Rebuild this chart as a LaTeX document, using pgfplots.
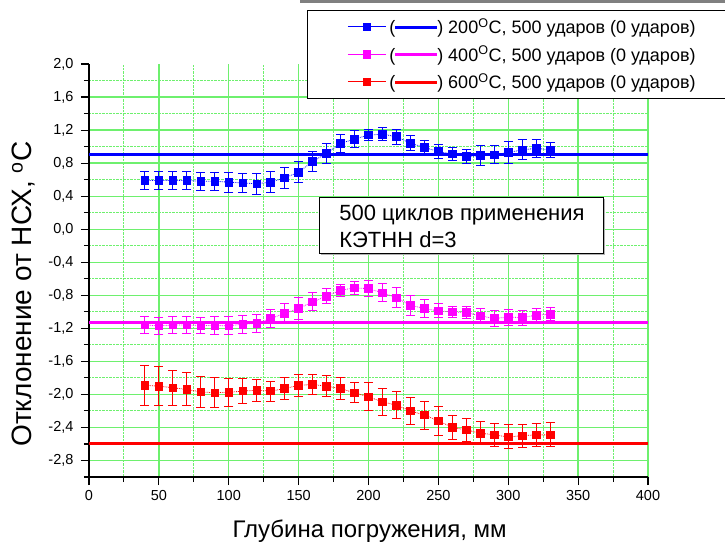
\documentclass[border=0pt]{standalone}
\usepackage{fontspec}
\setmainfont{Liberation Sans}
\usepackage{pgfplots}
\usepackage{pgfplotstable}
\pgfplotsset{compat=1.18}
\definecolor{gridgreen}{RGB}{110,240,110}
\definecolor{cblue}{RGB}{0,0,255}
\definecolor{cmag}{RGB}{255,0,255}
\definecolor{cred}{RGB}{255,0,0}

\pgfplotstableread{
x y e
40 0.59 0.11
50 0.59 0.11
60 0.59 0.11
70 0.59 0.11
80 0.58 0.11
90 0.58 0.11
100 0.57 0.12
110 0.56 0.12
120 0.55 0.13
130 0.57 0.13
140 0.62 0.13
150 0.69 0.13
160 0.82 0.12
170 0.92 0.12
180 1.04 0.11
190 1.09 0.10
200 1.14 0.07
210 1.15 0.08
220 1.12 0.09
230 1.04 0.09
240 0.99 0.08
250 0.94 0.08
260 0.91 0.08
270 0.88 0.09
280 0.89 0.12
290 0.90 0.11
300 0.93 0.13
310 0.96 0.12
320 0.98 0.11
330 0.96 0.09
}\bluedata

\pgfplotstableread{
x y e
40 -1.16 0.10
50 -1.17 0.10
60 -1.16 0.10
70 -1.16 0.10
80 -1.165 0.10
90 -1.165 0.105
100 -1.17 0.11
110 -1.15 0.11
120 -1.14 0.11
130 -1.08 0.11
140 -1.02 0.12
150 -0.96 0.13
160 -0.88 0.11
170 -0.81 0.09
180 -0.74 0.075
190 -0.71 0.08
200 -0.72 0.10
210 -0.77 0.11
220 -0.83 0.12
230 -0.92 0.12
240 -0.96 0.11
250 -0.99 0.085
260 -1.00 0.07
270 -1.01 0.07
280 -1.05 0.087
290 -1.08 0.095
300 -1.065 0.095
310 -1.07 0.09
320 -1.04 0.077
330 -1.03 0.08
}\magdata

\pgfplotstableread{
x y e
40 -1.89 0.24
50 -1.90 0.24
60 -1.92 0.21
70 -1.94 0.20
80 -1.97 0.19
90 -1.98 0.18
100 -1.975 0.17
110 -1.96 0.15
120 -1.95 0.13
130 -1.96 0.12
140 -1.93 0.13
150 -1.89 0.13
160 -1.88 0.125
170 -1.90 0.13
180 -1.93 0.13
190 -1.98 0.12
200 -2.03 0.17
210 -2.09 0.16
220 -2.13 0.16
230 -2.20 0.16
240 -2.25 0.17
250 -2.32 0.176
260 -2.40 0.15
270 -2.43 0.14
280 -2.47 0.14
290 -2.49 0.14
300 -2.515 0.146
310 -2.50 0.14
320 -2.49 0.14
330 -2.49 0.146
}\reddata

\begin{document}
\begin{tikzpicture}
\useasboundingbox (-89pt,-66pt) rectangle (636pt,477pt);
\begin{axis}[
  at={(0,0)}, anchor=south west,
  scale only axis, width=559pt, height=413pt,
  xmin=0, xmax=400, ymin=-3.0, ymax=2.0,
  axis x line*=bottom, axis y line*=left,
  axis line style={line width=1.2pt, black},
  xtick={0,50,...,400},
  minor xtick={25,75,...,375},
  ytick={-2.8,-2.4,-2.0,-1.6,-1.2,-0.8,-0.4,0,0.4,0.8,1.2,1.6},
  extra y ticks={2.0},
  extra y tick style={grid=none},
  minor ytick={-3.0,-2.6,-2.2,-1.8,-1.4,-1.0,-0.6,-0.2,0.2,0.6,1.0,1.4,1.8},
  grid=both,
  major grid style={gridgreen, line width=1.3pt},
  minor grid style={gridgreen, densely dotted, line width=0.9pt},
  tick align=outside,
  major tick length=8pt, minor tick length=5pt,
  tick style={black, line width=1.1pt},
  /pgf/number format/assume math mode=true,
  yticklabel style={/pgf/number format/fixed, /pgf/number format/fixed zerofill, /pgf/number format/precision=1, /pgf/number format/use comma, xshift=-4pt},
  tick label style={font=\fontsize{14.5}{16}\selectfont},
  xticklabel style={yshift=-2pt},
  xlabel={Глубина погружения, мм},
  ylabel={Отклонение от НСХ, \textsuperscript{o}C},
  xlabel style={font=\fontsize{24}{26}\selectfont, at={(axis description cs:0.502,-0.146)}, anchor=base},
  ylabel style={font=\fontsize{28}{30}\selectfont, at={(axis description cs:-0.1025,0.443)}, anchor=base},
  legend style={at={(axis description cs:0.390,1.1308)}, anchor=north west,
    draw=black, line width=0.9pt, fill=white, font=\fontsize{18}{20}\selectfont,
    inner xsep=40pt, inner ysep=5pt, row sep=5pt, cells={anchor=west},
    nodes={inner ysep=3pt, inner xsep=3pt}},
  legend image code/.code={\draw[#1, solid, line width=0.8pt, mark repeat=2, mark phase=2] plot coordinates {(0pt,0pt) (19pt,0pt) (38pt,0pt)};},
]
% reference horizontal lines
\addplot[cblue, line width=3pt, forget plot] coordinates {(0,0.9) (400,0.9)};
\addplot[cmag, line width=3pt, forget plot] coordinates {(0,-1.125) (400,-1.125)};
\addplot[cred, line width=3pt, forget plot] coordinates {(0,-2.59) (400,-2.59)};

\addplot[cblue, densely dotted, line width=0.8pt, mark=square*, mark size=3.8pt,
  mark options={solid, fill=cblue, draw=cblue},
  error bars/.cd, y dir=both, y explicit,
  error bar style={line width=1pt, solid},
  error mark options={rotate=90, mark size=4.5pt, line width=1pt, solid}]
  table[x=x, y=y, y error=e] {\bluedata};
\addlegendentry{(\textcolor{cblue}{\rule[0.26em]{42pt}{3pt}}) 200\textsuperscript{O}C, 500 ударов (0 ударов)}

\addplot[cmag, densely dotted, line width=0.8pt, mark=square*, mark size=3.8pt,
  mark options={solid, fill=cmag, draw=cmag},
  error bars/.cd, y dir=both, y explicit,
  error bar style={line width=1pt, solid},
  error mark options={rotate=90, mark size=4.5pt, line width=1pt, solid}]
  table[x=x, y=y, y error=e] {\magdata};
\addlegendentry{(\textcolor{cmag}{\rule[0.26em]{42pt}{3pt}}) 400\textsuperscript{O}C, 500 ударов (0 ударов)}

\addplot[cred, densely dotted, line width=0.8pt, mark=square*, mark size=3.8pt,
  mark options={solid, fill=cred, draw=cred},
  error bars/.cd, y dir=both, y explicit,
  error bar style={line width=1pt, solid},
  error mark options={rotate=90, mark size=4.5pt, line width=1pt, solid}]
  table[x=x, y=y, y error=e] {\reddata};
\addlegendentry{(\textcolor{cred}{\rule[0.26em]{42pt}{3pt}}) 600\textsuperscript{O}C, 500 ударов (0 ударов)}

% annotation box
\fill[gray!60] ([shift={(1.5pt,-1.5pt)}]axis cs:165,0.385) rectangle ([shift={(1.5pt,-1.5pt)}]axis cs:368,-0.295);
\draw[black, line width=0.9pt, fill=white] (axis cs:165,0.385) rectangle (axis cs:368,-0.295);
\node[anchor=west, align=left, font=\fontsize{22}{27}\selectfont, inner sep=0pt] at (axis cs:179,0.03) {500 циклов применения\\КЭТНН d=3};
\end{axis}
\draw[gray, line width=3pt] (211pt,475.5pt) -- (640pt,475.5pt);
\end{tikzpicture}
\end{document}
